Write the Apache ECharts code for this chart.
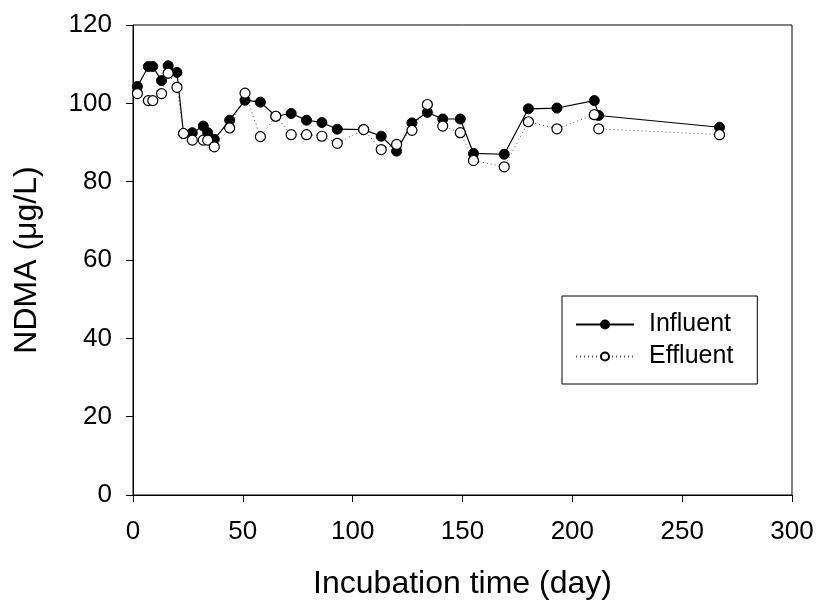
<!DOCTYPE html>
<html>
<head>
<meta charset="utf-8">
<script src="https://cdn.jsdelivr.net/npm/echarts@6/dist/echarts.min.js"></script>
<style>
  html, body { margin: 0; padding: 0; background: #fff; }
  #chart { width: 818px; height: 605px; }
</style>
</head>
<body>
<div id="chart"></div>
<script>
const days = [2, 7, 9, 13, 16, 20, 23, 27, 32, 34, 37, 44, 51, 58, 65, 72, 79, 86, 93, 105, 113, 120, 127, 134, 141, 149, 155, 169, 180, 193, 210, 212, 267];
const influent = [104.3, 109.4, 109.4, 105.8, 109.6, 107.9, 92.3, 92.5, 94.2, 92.5, 90.8, 95.7, 100.8, 100.3, 96.7, 97.4, 95.7, 95.1, 93.4, 93.3, 91.6, 87.8, 95.0, 97.7, 96.0, 96.0, 87.2, 87.0, 98.6, 98.8, 100.7, 96.9, 93.9];
const effluent = [102.5, 100.7, 100.7, 102.5, 107.7, 104.1, 92.3, 90.6, 90.6, 90.6, 88.9, 93.7, 102.6, 91.5, 96.7, 92.0, 92.0, 91.6, 89.8, 93.3, 88.2, 89.5, 93.1, 99.7, 94.2, 92.5, 85.4, 83.8, 95.3, 93.5, 97.1, 93.5, 92.0];
const seriesNames = ['Influent', 'Effluent'];
const xTitle = 'Incubation time (day)';
const yTitle = 'NDMA (\u03bcg/L)';

const FONT = 'Liberation Sans, Arial, Helvetica, sans-serif';
const pairs = (vals) => days.map((d, i) => [d, vals[i]]);

const chart = echarts.init(document.getElementById('chart'), null, { renderer: 'canvas' });
chart.setOption({
  animation: false,
  backgroundColor: '#fff',
  textStyle: { fontFamily: FONT, color: '#000' },
  grid: { left: 133, right: 26, top: 25, bottom: 108, show: true, borderColor: '#000', borderWidth: 1, backgroundColor: 'transparent' },
  legend: {
    orient: 'vertical',
    left: 562, top: 296,
    padding: [16, 24, 15, 13],
    itemGap: 7,
    itemWidth: 58, itemHeight: 10,
    borderColor: '#000', borderWidth: 1,
    backgroundColor: '#fff',
    textStyle: { fontFamily: FONT, fontSize: 25, color: '#000', padding: [0, 0, 0, 10] },
    data: seriesNames
  },
  xAxis: {
    type: 'value', min: 0, max: 300, interval: 50,
    name: xTitle, nameLocation: 'middle', nameGap: 73,
    nameTextStyle: { fontFamily: FONT, fontSize: 32, color: '#000' },
    axisLine: { show: true, onZero: false, lineStyle: { color: '#000', width: 1 } },
    axisTick: { show: true, inside: false, length: 7, lineStyle: { color: '#000' } },
    axisLabel: { fontFamily: FONT, fontSize: 26, color: '#000', margin: 24 },
    splitLine: { show: false }
  },
  yAxis: {
    type: 'value', min: 0, max: 120, interval: 20,
    name: yTitle, nameLocation: 'middle', nameGap: 90, nameRotate: 90,
    nameTextStyle: { fontFamily: FONT, fontSize: 32, color: '#000' },
    axisLine: { show: true, onZero: false, lineStyle: { color: '#000', width: 1 } },
    axisTick: { show: true, inside: false, length: 7, lineStyle: { color: '#000' } },
    axisLabel: { fontFamily: FONT, fontSize: 26, color: '#000', margin: 21 },
    splitLine: { show: false }
  },
  series: [
    {
      name: seriesNames[0], type: 'line', z: 2,
      data: pairs(influent),
      symbol: 'circle', symbolSize: 10, showSymbol: true,
      lineStyle: { color: '#000', width: 1.2, type: 'solid' },
      itemStyle: { color: '#000', borderColor: '#000', borderWidth: 1 }
    },
    {
      name: seriesNames[1], type: 'line', z: 3,
      data: pairs(effluent),
      symbol: 'circle', symbolSize: 10, showSymbol: true,
      lineStyle: { color: '#555', width: 1, type: [1, 3] },
      itemStyle: { color: '#fff', borderColor: '#000', borderWidth: 1.2 }
    }
  ]
});
</script>
</body>
</html>
